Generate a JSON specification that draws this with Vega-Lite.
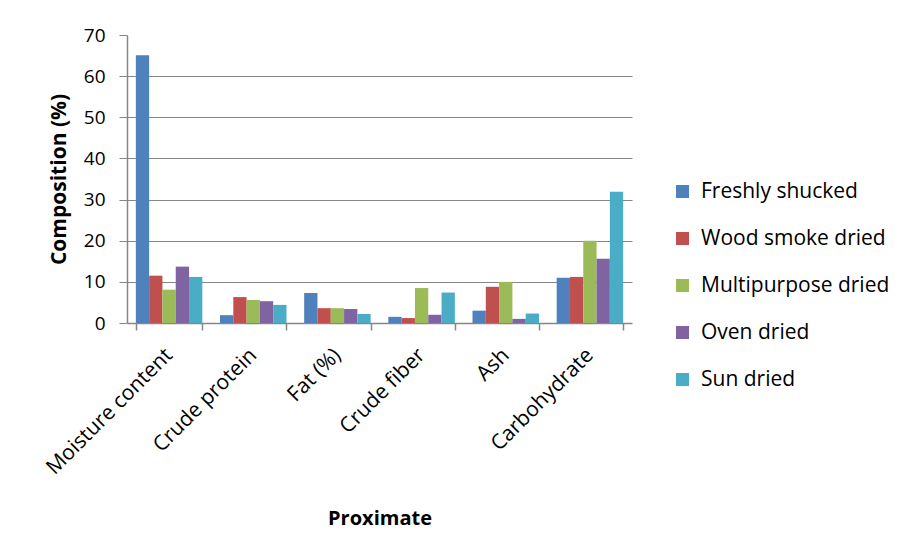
{
  "$schema": "https://vega.github.io/schema/vega-lite/v6.json",
  "width": 505,
  "height": 288,
  "autosize": {"type": "none"},
  "padding": {"left": 127, "top": 35, "right": 271, "bottom": 235},
  "background": "white",
  "config": {
    "font": "Open Sans",
    "view": {"stroke": null},
    "axis": {"labelFont": "Open Sans", "titleFont": "Open Sans", "labelColor": "#000000", "titleColor": "#000000"}
  },
  "data": {
    "values": [
      {"proximate": "Moisture content", "method": "Freshly shucked", "value": 65.1},
      {"proximate": "Moisture content", "method": "Wood smoke dried", "value": 11.5},
      {"proximate": "Moisture content", "method": "Multipurpose dried", "value": 8.1},
      {"proximate": "Moisture content", "method": "Oven dried", "value": 13.7},
      {"proximate": "Moisture content", "method": "Sun dried", "value": 11.2},
      {"proximate": "Crude protein", "method": "Freshly shucked", "value": 1.9},
      {"proximate": "Crude protein", "method": "Wood smoke dried", "value": 6.3},
      {"proximate": "Crude protein", "method": "Multipurpose dried", "value": 5.6},
      {"proximate": "Crude protein", "method": "Oven dried", "value": 5.3},
      {"proximate": "Crude protein", "method": "Sun dried", "value": 4.4},
      {"proximate": "Fat (%)", "method": "Freshly shucked", "value": 7.3},
      {"proximate": "Fat (%)", "method": "Wood smoke dried", "value": 3.6},
      {"proximate": "Fat (%)", "method": "Multipurpose dried", "value": 3.6},
      {"proximate": "Fat (%)", "method": "Oven dried", "value": 3.4},
      {"proximate": "Fat (%)", "method": "Sun dried", "value": 2.2},
      {"proximate": "Crude fiber", "method": "Freshly shucked", "value": 1.5},
      {"proximate": "Crude fiber", "method": "Wood smoke dried", "value": 1.2},
      {"proximate": "Crude fiber", "method": "Multipurpose dried", "value": 8.5},
      {"proximate": "Crude fiber", "method": "Oven dried", "value": 2.0},
      {"proximate": "Crude fiber", "method": "Sun dried", "value": 7.4},
      {"proximate": "Ash", "method": "Freshly shucked", "value": 3.0},
      {"proximate": "Ash", "method": "Wood smoke dried", "value": 8.8},
      {"proximate": "Ash", "method": "Multipurpose dried", "value": 10.0},
      {"proximate": "Ash", "method": "Oven dried", "value": 1.0},
      {"proximate": "Ash", "method": "Sun dried", "value": 2.3},
      {"proximate": "Carbohydrate", "method": "Freshly shucked", "value": 11.0},
      {"proximate": "Carbohydrate", "method": "Wood smoke dried", "value": 11.2},
      {"proximate": "Carbohydrate", "method": "Multipurpose dried", "value": 20.0},
      {"proximate": "Carbohydrate", "method": "Oven dried", "value": 15.6},
      {"proximate": "Carbohydrate", "method": "Sun dried", "value": 31.9}
    ]
  },
  "mark": {"type": "bar"},
  "encoding": {
    "x": {
      "field": "proximate",
      "type": "nominal",
      "sort": null,
      "scale": {"paddingInner": 0.21, "paddingOuter": 0.105},
      "axis": {
        "title": "Proximate",
        "titleFontSize": 20,
        "titleFontWeight": "bold",
        "titlePadding": 31,
        "labelAngle": -45,
        "labelFontSize": 21,
        "labelPadding": 14,
        "labelOffset": -8,
        "tickBand": "extent",
        "tickSize": 7,
        "tickColor": "#868686",
        "domainColor": "#868686",
        "domainWidth": 1.5,
        "tickWidth": 1.5
      }
    },
    "xOffset": {
      "field": "method",
      "type": "nominal",
      "sort": ["Freshly shucked", "Wood smoke dried", "Multipurpose dried", "Oven dried", "Sun dried"],
      "scale": {"paddingInner": 0, "paddingOuter": 0}
    },
    "y": {
      "field": "value",
      "type": "quantitative",
      "scale": {"domain": [0, 70], "nice": false},
      "axis": {
        "title": "Composition (%)",
        "titleFontSize": 21,
        "titleFontWeight": "bold",
        "titlePadding": 14,
        "values": [0, 10, 20, 30, 40, 50, 60, 70],
        "labelFontSize": 19,
        "labelPadding": 14,
        "tickSize": 8,
        "tickColor": "#868686",
        "domainColor": "#868686",
        "domainWidth": 1.5,
        "gridColor": "#868686",
        "gridOpacity": {"condition": {"test": "datum.value === 70 || datum.value === 0", "value": 0}, "value": 1}
      }
    },
    "color": {
      "field": "method",
      "type": "nominal",
      "sort": ["Freshly shucked", "Wood smoke dried", "Multipurpose dried", "Oven dried", "Sun dried"],
      "scale": {
        "domain": ["Freshly shucked", "Wood smoke dried", "Multipurpose dried", "Oven dried", "Sun dried"],
        "range": ["#4F81BD", "#C0504D", "#9BBB59", "#8064A2", "#4BACC6"]
      },
      "legend": {
        "title": null,
        "orient": "none",
        "legendX": 545,
        "legendY": 146,
        "symbolType": "square",
        "symbolSize": 169,
        "symbolStrokeWidth": 0,
        "labelFontSize": 21,
        "labelFont": "Open Sans",
        "labelColor": "#000000",
        "labelOffset": 8,
        "rowPadding": 25,
        "labelLimit": 300
      }
    }
  }
}
